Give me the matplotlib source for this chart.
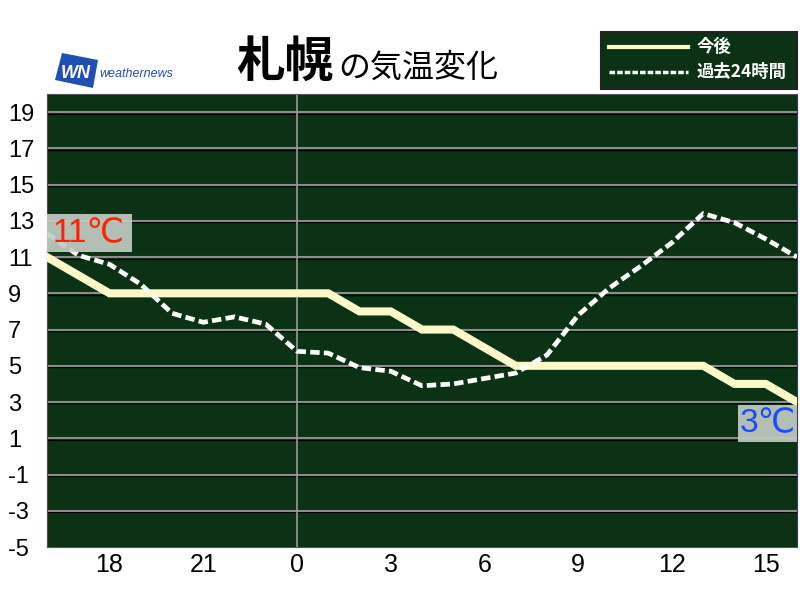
import matplotlib
matplotlib.use("Agg")
import matplotlib.pyplot as plt
from matplotlib.patches import Rectangle, Polygon
from matplotlib.lines import Line2D

plt.rcParams['font.family'] = ['Liberation Sans', 'DejaVu Sans', 'Noto Sans CJK JP']

# ---- data ----
hours = list(range(16, 41))  # 16:00 today -> 16:00 tomorrow
forecast = [11, 10, 9, 9, 9, 9, 9, 9, 9, 9, 8, 8, 7, 7, 6, 5, 5, 5, 5, 5, 5, 5, 4, 4, 3]
past24 = [12.3, 11.1, 10.6, 9.5, 7.9, 7.4, 7.7, 7.3, 5.8, 5.7, 4.9, 4.7, 3.9, 4.0,
          4.3, 4.6, 5.6, 7.8, 9.3, 10.5, 11.8, 13.4, 12.9, 12.0, 11.0]
xtick_pos = [18, 21, 24, 27, 30, 33, 36, 39]
xtick_labels = ['18', '21', '0', '3', '6', '9', '12', '15']
ytick_vals = list(range(-5, 20, 2))
city = '札幌'
title_rest = 'の気温変化'
legend_labels = ['今後', '過去24時間']

BG = '#0b3214'
CREAM = '#fdf8c8'

fig = plt.figure(figsize=(8, 6), dpi=100)
ax = fig.add_axes([47/800, 53/600, 750/800, 453/600])
ax.set_facecolor(BG)
ax.set_xlim(hours[0], hours[-1])
ax.set_ylim(-5, 20)

# grid lines (grey with dark shadow)
for v in ytick_vals[1:]:
    ax.axhline(v - 0.08, color='#000000', lw=1.0, zorder=1)
    ax.axhline(v, color='#8c8c8c', lw=1.5, zorder=1)
ax.axvline(24, color='#9a9a9a', lw=1.2, zorder=1)

ax.plot(hours, forecast, color=CREAM, lw=5.8, solid_joinstyle='miter', zorder=3)
ax.plot(hours, past24, color='white', lw=3.4, dashes=(2.0, 0.9), zorder=4)

# end labels
ax.add_patch(Rectangle((16, 11.29), 2.72, 2.09, facecolor='#c3cbc3', alpha=0.92,
                       edgecolor='none', zorder=5, clip_on=False))
ax.text(17.33, 12.3, f'{forecast[0]}℃', color='#ff2200', fontsize=24,
        ha='center', va='center', zorder=6)
ax.add_patch(Rectangle((38.11, 0.8), 1.89, 2.03, facecolor='#c3cbc3', alpha=0.92,
                       edgecolor='none', zorder=5, clip_on=False))
ax.text(39.06, 1.8, f'{forecast[-1]}℃', color='#1a4cff', fontsize=24,
        ha='center', va='center', zorder=6)

ax.set_xticks(xtick_pos)
ax.set_xticklabels(xtick_labels, family=['Liberation Sans Narrow', 'Liberation Sans'],
                   fontsize=18)
ax.set_yticks(ytick_vals)
ax.set_yticklabels([str(v) for v in ytick_vals], fontsize=17, ha='left')
ax.tick_params(axis='y', length=0, pad=28)
ax.tick_params(axis='x', length=0, pad=4)
for s in ax.spines.values():
    s.set_color('#555555')
    s.set_linewidth(0.8)
ax.spines['left'].set_color('#ff0000')
ax.spines['right'].set_color('#2020ff')

# title
fig.text(236/800, 1 - 77/600, city, fontsize=35, fontweight='bold',
         family=['Noto Sans CJK JP'], ha='left', va='baseline')
fig.text(338/800, 1 - 77/600, title_rest, fontsize=23,
         family=['Noto Sans CJK JP'], ha='left', va='baseline')

# logo
fig.patches.append(Polygon([(62/800, 1 - 53/600), (98/800, 1 - 60/600),
                            (93/800, 1 - 88/600), (55/800, 1 - 80/600)],
                           closed=True, transform=fig.transFigure,
                           facecolor='#1f4fb4', edgecolor='none'))
fig.text(76/800, 1 - 73/600, 'WN', color='white', fontsize=13, fontweight='bold',
         style='italic', ha='center', va='center')
fig.text(99/800, 1 - 74/600, 'weathernews', color='#1f4fb4', fontsize=9,
         style='italic', ha='left', va='center')

# legend box
fig.patches.append(Rectangle((601/800, 1 - 89/600), 196/800, 57/600,
                             transform=fig.transFigure, facecolor=BG,
                             edgecolor='#222222', lw=1.5))
fig.lines.append(Line2D([609/800, 688/800], [1 - 47/600, 1 - 47/600],
                        transform=fig.transFigure, color=CREAM, lw=3))
fig.lines.append(Line2D([609/800, 688/800], [1 - 72/600, 1 - 72/600],
                        transform=fig.transFigure, color='white', lw=2.5,
                        dashes=(1.6, 0.6)))
fig.text(697/800, 1 - 47/600, legend_labels[0], color='white', fontsize=12.5,
         fontweight='bold', family=['Noto Sans CJK JP'], ha='left', va='center')
fig.text(697/800, 1 - 72/600, legend_labels[1], color='white', fontsize=12.5,
         fontweight='bold', family=['Noto Sans CJK JP'], ha='left', va='center')

fig.savefig('out.png', dpi=100, facecolor='white')
